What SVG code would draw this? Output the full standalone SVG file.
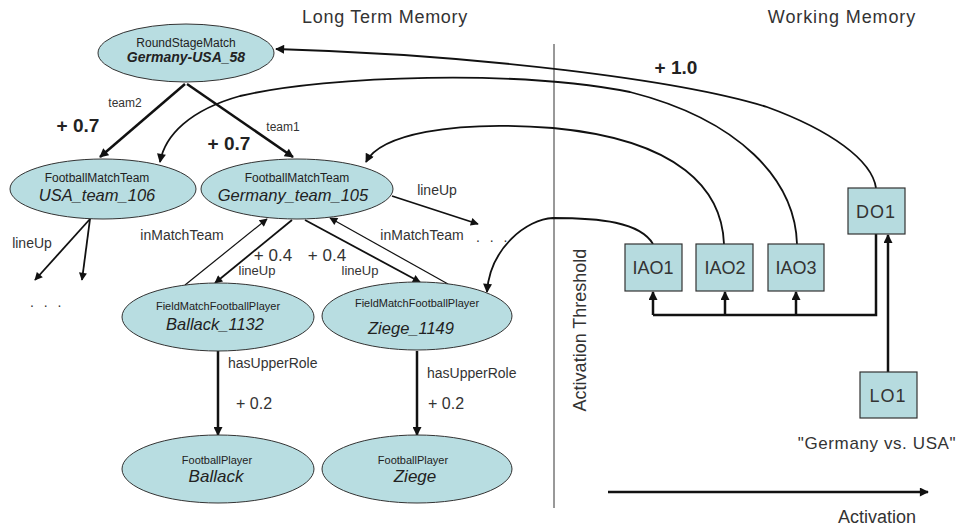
<svg xmlns="http://www.w3.org/2000/svg" width="963" height="528" viewBox="0 0 963 528">
<defs>
<marker id="ah" viewBox="0 0 10 10" refX="9" refY="5" markerWidth="10" markerHeight="9" markerUnits="userSpaceOnUse" orient="auto"><path d="M0,0 L10,5 L0,10 z" fill="#111"/></marker>
<marker id="ahs" viewBox="0 0 10 10" refX="9" refY="5" markerWidth="9" markerHeight="8" markerUnits="userSpaceOnUse" orient="auto"><path d="M0,0 L10,5 L0,10 z" fill="#111"/></marker>
<style>
text{font-family:"Liberation Sans",Arial,sans-serif;fill:#333}
.n ellipse{fill:#b8dde1;stroke:#333;stroke-width:1}
.n rect{fill:#b6dbdf;stroke:#333;stroke-width:1.2}
.c{font-size:12px;text-anchor:middle;fill:#222}
.i{font-size:16.5px;font-style:italic;text-anchor:middle;fill:#222}
.s{font-size:11px;text-anchor:middle;fill:#222}
.b{font-size:18px;text-anchor:middle}
.l{font-size:14px}
.w{font-size:19px;font-weight:bold;text-anchor:middle;fill:#222}
.k{stroke:#111;fill:none}
.t{stroke-width:2.5}
.m{stroke-width:1.8}
.h{stroke-width:1.2}
</style>
</defs>
<text x="385" y="23" class="b" style="letter-spacing:0.7px">Long Term Memory</text>
<text x="842" y="23" class="b" style="letter-spacing:0.9px">Working Memory</text>
<line x1="554" y1="44" x2="554" y2="508" stroke="#333" stroke-width="1"/>
<text x="580" y="336" class="b" transform="rotate(-90 580 330)">Activation Threshold</text>
<text x="877" y="523" class="b">Activation</text>
<text x="877" y="449" class="b" style="font-size:17px;letter-spacing:0.6px">"Germany vs. USA"</text>
<text x="676" y="74" class="w">+ 1.0</text>
<text x="78" y="132" class="w">+ 0.7</text>
<text x="229" y="150" class="w">+ 0.7</text>
<text x="273" y="261" class="b" style="font-size:17px">+ 0.4</text>
<text x="327" y="261" class="b" style="font-size:17px">+ 0.4</text>
<text x="236" y="409" style="font-size:16px">+ 0.2</text>
<text x="428" y="409" style="font-size:16px">+ 0.2</text>
<text x="125" y="107" class="c" style="fill:#333">team2</text>
<text x="283" y="131" class="c" style="fill:#333">team1</text>
<text x="32" y="248" class="l" text-anchor="middle">lineUp</text>
<text x="437" y="195" class="l" text-anchor="middle">lineUp</text>
<text x="257" y="275" class="l" text-anchor="middle" style="font-size:13px">lineUp</text>
<text x="360" y="275" class="l" text-anchor="middle" style="font-size:13px">lineUp</text>
<text x="182" y="240" class="l" text-anchor="middle">inMatchTeam</text>
<text x="422" y="240" class="l" text-anchor="middle">inMatchTeam</text>
<text x="228" y="368" class="l">hasUpperRole</text>
<text x="427" y="378" class="l">hasUpperRole</text>
<text x="30" y="307" class="l" style="letter-spacing:3px">. . .</text>
<text x="476" y="242" class="l" style="letter-spacing:3px">. . .</text>
<g id="connectors">
<path class="k t" d="M185,84 L100,157" marker-end="url(#ah)"/>
<path class="k t" d="M187,84 L293,157" marker-end="url(#ah)"/>
<path class="k m" d="M90,219 L35,280" marker-end="url(#ahs)"/>
<path class="k m" d="M90,219 L82,280" marker-end="url(#ahs)"/>
<path class="k m" d="M392,196 L478,224" marker-end="url(#ahs)"/>
<path class="k h" d="M185,285 L267,219" marker-end="url(#ahs)"/>
<path class="k m" d="M292,220 L215,283" marker-end="url(#ahs)"/>
<path class="k m" d="M305,220 L420,282" marker-end="url(#ahs)"/>
<path class="k h" d="M448,284 L330,218" marker-end="url(#ahs)"/>
<path class="k t" d="M218,351 L218,435" marker-end="url(#ah)"/>
<path class="k t" d="M417,351 L417,435" marker-end="url(#ah)"/>
<path class="k m" d="M876,188 C872,160 830,130 767,107 C680,80 480,55 276,49" marker-end="url(#ah)"/>
<path class="k m" d="M797,244 C795,180 740,120 630,92 C520,70 330,75 240,96 C190,110 165,135 160,162" marker-end="url(#ah)"/>
<path class="k m" d="M724,244 C722,190 680,140 553,128 C450,120 380,135 366,162" marker-end="url(#ah)"/>
<path class="k m" d="M653,244 C640,222 600,218 553,218 C527,219 490,248 487,292" marker-end="url(#ah)"/>
<path class="k t" d="M876,234 L876,315 L653,315"/>
<path class="k t" d="M653,315 L653,292" marker-end="url(#ah)"/>
<path class="k t" d="M725,315 L725,292" marker-end="url(#ah)"/>
<path class="k t" d="M796,315 L796,292" marker-end="url(#ah)"/>
<path class="k t" d="M888,372 L888,235" marker-end="url(#ah)"/>
<path class="k t" d="M608,492 L928,492" marker-end="url(#ah)"/>
</g>
<g id="n-roundstage" class="n"><ellipse cx="186" cy="53" rx="88" ry="29"/><text x="186" y="47" class="c">RoundStageMatch</text><text x="186" y="62" class="c" style="font-size:14px;font-weight:bold;font-style:italic">Germany-USA_58</text></g>
<g id="n-usa" class="n"><ellipse cx="103" cy="189" rx="93" ry="30"/><text x="97" y="182" class="c">FootballMatchTeam</text><text x="97" y="201" class="i">USA_team_106</text></g>
<g id="n-germany" class="n"><ellipse cx="297" cy="189" rx="96" ry="30"/><text x="297" y="182" class="c">FootballMatchTeam</text><text x="293" y="201" class="i">Germany_team_105</text></g>
<g id="n-ballack1132" class="n"><ellipse cx="218" cy="317" rx="96" ry="34"/><text x="218" y="310" class="s">FieldMatchFootballPlayer</text><text x="215" y="330" class="i">Ballack_1132</text></g>
<g id="n-ziege1149" class="n"><ellipse cx="417" cy="316" rx="95" ry="34"/><text x="417" y="307" class="s">FieldMatchFootballPlayer</text><text x="411" y="334" class="i">Ziege_1149</text></g>
<g id="n-ballack" class="n"><ellipse cx="218" cy="469" rx="96" ry="34"/><text x="217" y="464" class="s">FootballPlayer</text><text x="216" y="482" class="i" style="font-size:17px">Ballack</text></g>
<g id="n-ziege" class="n"><ellipse cx="417" cy="469" rx="95" ry="34"/><text x="413" y="464" class="s">FootballPlayer</text><text x="415" y="482" class="i" style="font-size:17px">Ziege</text></g>
<g id="n-do1" class="n"><rect x="848" y="188" width="57" height="46"/><text x="876" y="218" class="b" style="letter-spacing:1px">DO1</text></g>
<g id="n-iao1" class="n"><rect x="625" y="244" width="57" height="47"/><text x="653" y="274" class="b">IAO1</text></g>
<g id="n-iao2" class="n"><rect x="696" y="244" width="57" height="47"/><text x="725" y="274" class="b">IAO2</text></g>
<g id="n-iao3" class="n"><rect x="768" y="244" width="56" height="47"/><text x="796" y="274" class="b">IAO3</text></g>
<g id="n-lo1" class="n"><rect x="860" y="372" width="57" height="46"/><text x="888" y="402" class="b" style="letter-spacing:1px">LO1</text></g>
</svg>
